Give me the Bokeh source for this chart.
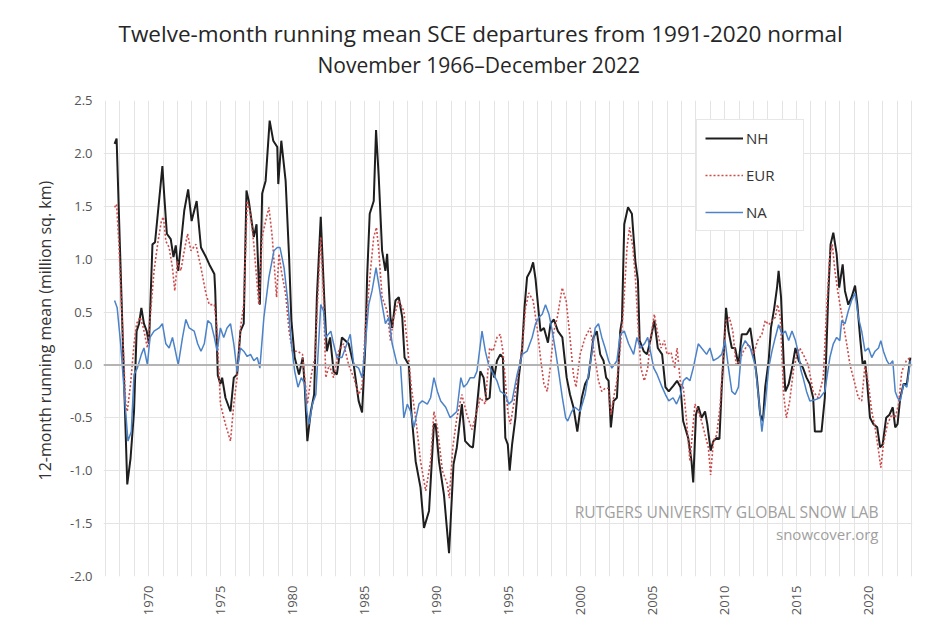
import math
from bokeh.plotting import figure
from bokeh.models import (FixedTicker, Range1d, Span, Label, Legend, LegendItem,
                          NumeralTickFormatter, Title)
from bokeh.embed import file_html
from bokeh.resources import INLINE

# ---------------- data ----------------
nh_t = [1967.63, 1967.77, 1968.51, 1968.74, 1968.98, 1969.16, 1969.33, 1969.49, 1969.67, 1969.86,
        1970.02, 1970.26, 1970.44, 1970.79, 1970.95, 1971.07, 1971.26, 1971.53, 1971.72, 1971.88,
        1972.05, 1972.47, 1972.74, 1972.98, 1973.33, 1973.63, 1973.98, 1974.21, 1974.56, 1974.62,
        1974.80, 1974.98, 1975.10, 1975.33, 1975.68, 1975.91, 1976.14, 1976.37, 1976.60, 1976.79,
        1976.95, 1977.30, 1977.49, 1977.65, 1977.72, 1977.88, 1978.12, 1978.40, 1978.65, 1978.93,
        1979.00, 1979.21, 1979.51, 1979.75, 1979.91, 1980.14, 1980.44, 1980.70, 1980.84, 1981.02,
        1981.26, 1981.49, 1981.68, 1981.95, 1982.19, 1982.37, 1982.60, 1982.84, 1983.07, 1983.42,
        1983.89, 1984.24, 1984.58, 1984.82, 1985.05, 1985.17, 1985.35, 1985.63, 1985.79, 1985.98,
        1986.21, 1986.44, 1986.56, 1986.79, 1986.91, 1987.14, 1987.37, 1987.61, 1987.77, 1988.07,
        1988.24, 1988.54, 1988.88, 1989.12, 1989.47, 1989.81, 1989.93, 1990.16, 1990.51, 1990.86,
        1991.17, 1991.40, 1991.75, 1991.98, 1992.33, 1992.52, 1992.68, 1993.03, 1993.26, 1993.45,
        1993.68, 1993.84, 1994.00, 1994.19, 1994.42, 1994.60, 1994.77, 1994.94, 1995.07, 1995.24,
        1995.47, 1995.70, 1995.94, 1996.10, 1996.28, 1996.52, 1996.70, 1996.87, 1997.21, 1997.45,
        1997.73, 1997.91, 1998.14, 1998.42, 1998.73, 1999.03, 1999.26, 1999.50, 1999.77, 2000.08,
        2000.31, 2000.54, 2000.89, 2001.12, 2001.36, 2001.59, 2001.77, 2001.94, 2002.10, 2002.29,
        2002.52, 2002.75, 2002.87, 2003.03, 2003.29, 2003.56, 2003.80, 2003.98, 2004.10, 2004.38,
        2004.61, 2004.84, 2005.12, 2005.36, 2005.66, 2005.89, 2006.12, 2006.42, 2006.70, 2006.94,
        2007.12, 2007.47, 2007.70, 2007.82, 2008.01, 2008.17, 2008.40, 2008.64, 2008.80, 2009.03,
        2009.22, 2009.45, 2009.64, 2009.80, 2009.96, 2010.10, 2010.27, 2010.50, 2010.73, 2010.96,
        2011.19, 2011.54, 2011.78, 2012.01, 2012.24, 2012.47, 2012.66, 2012.82, 2013.06, 2013.22,
        2013.45, 2013.64, 2013.75, 2013.92, 2014.10, 2014.22, 2014.45, 2014.68, 2014.92, 2015.15,
        2015.45, 2015.69, 2015.92, 2016.15, 2016.27, 2016.50, 2016.73, 2016.96, 2017.20, 2017.36,
        2017.55, 2017.78, 2017.96, 2018.20, 2018.36, 2018.59, 2018.82, 2019.06, 2019.22, 2019.41,
        2019.59, 2019.75, 2019.87, 2020.10, 2020.34, 2020.60, 2020.80, 2020.98, 2021.22, 2021.45,
        2021.68, 2021.85, 2022.01, 2022.20, 2022.43, 2022.66, 2022.90]
nh_v = [2.09, 2.14, -1.13, -0.88, -0.44, 0.32, 0.39, 0.54, 0.39, 0.32,
        0.20, 1.14, 1.16, 1.65, 1.88, 1.62, 1.24, 1.19, 1.02, 1.13,
        0.89, 1.46, 1.66, 1.36, 1.55, 1.11, 1.02, 0.95, 0.86, 0.70,
        -0.10, -0.18, -0.12, -0.31, -0.44, -0.12, -0.09, 0.32, 0.39, 1.65,
        1.55, 1.21, 1.33, 0.76, 0.57, 1.62, 1.74, 2.31, 2.12, 2.06,
        1.71, 2.12, 1.74, 1.02, 0.42, 0.07, -0.09, 0.07, -0.21, -0.72,
        -0.44, -0.28, 0.64, 1.40, 0.64, 0.13, 0.26, -0.06, -0.09, 0.26,
        0.20, 0.00, -0.34, -0.45, 0.20, 0.83, 1.43, 1.55, 2.22, 1.77,
        1.08, 0.89, 1.05, 0.45, 0.35, 0.61, 0.64, 0.45, 0.07, 0.00,
        -0.44, -0.91, -1.16, -1.54, -1.38, -0.56, -0.56, -0.91, -1.23, -1.78,
        -0.94, -0.78, -0.37, -0.72, -0.77, -0.78, -0.56, -0.06, -0.12, -0.33,
        -0.31, 0.00, -0.12, 0.04, 0.10, 0.07, -0.69, -0.75, -1.00, -0.75,
        -0.50, -0.12, 0.16, 0.54, 0.83, 0.89, 0.97, 0.81, 0.32, 0.35,
        0.21, 0.39, 0.43, 0.32, 0.26, -0.12, -0.28, -0.40, -0.63, -0.31,
        -0.18, -0.12, 0.26, 0.32, 0.10, 0.04, -0.12, -0.15, -0.59, -0.34,
        -0.31, 0.32, 0.42, 1.33, 1.49, 1.43, 0.98, 0.80, 0.23, 0.13,
        0.10, 0.23, 0.42, 0.16, 0.10, -0.21, -0.25, -0.20, -0.15, -0.21,
        -0.53, -0.69, -0.91, -1.11, -0.47, -0.39, -0.50, -0.44, -0.56, -0.81,
        -0.72, -0.69, -0.70, -0.21, 0.16, 0.54, 0.32, 0.16, 0.16, 0.00,
        0.29, 0.29, 0.35, 0.13, -0.12, -0.47, -0.53, -0.21, 0.04, 0.35,
        0.54, 0.73, 0.89, 0.64, 0.04, -0.25, -0.18, -0.03, 0.16, 0.04,
        -0.03, -0.12, -0.18, -0.31, -0.63, -0.63, -0.63, -0.31, 0.67, 1.14,
        1.25, 1.05, 0.73, 0.95, 0.70, 0.57, 0.64, 0.75, 0.57, 0.26,
        0.00, 0.04, -0.12, -0.50, -0.56, -0.59, -0.78, -0.75, -0.50, -0.47,
        -0.40, -0.59, -0.56, -0.31, -0.18, -0.18, 0.07]

eur_t = [1967.63, 1967.77, 1967.93, 1968.40, 1968.51, 1968.74, 1968.98, 1969.16, 1969.40, 1969.63,
         1969.91, 1970.14, 1970.37, 1970.65, 1970.88, 1971.02, 1971.19, 1971.42, 1971.65, 1971.81,
         1972.00, 1972.23, 1972.47, 1972.70, 1972.93, 1973.28, 1973.63, 1973.98, 1974.21, 1974.56,
         1974.74, 1974.98, 1975.33, 1975.68, 1975.91, 1976.14, 1976.37, 1976.60, 1976.84, 1977.07,
         1977.30, 1977.65, 1977.88, 1978.12, 1978.35, 1978.58, 1978.88, 1979.05, 1979.21, 1979.51,
         1979.75, 1979.98, 1980.33, 1980.68, 1980.84, 1981.02, 1981.30, 1981.54, 1981.72, 1981.95,
         1982.14, 1982.30, 1982.54, 1982.84, 1983.19, 1983.54, 1983.89, 1984.24, 1984.58, 1984.82,
         1985.05, 1985.40, 1985.63, 1985.82, 1985.98, 1986.21, 1986.56, 1986.79, 1987.02, 1987.37,
         1987.72, 1987.96, 1988.24, 1988.54, 1988.88, 1989.24, 1989.58, 1989.81, 1990.05, 1990.40,
         1990.75, 1990.88, 1991.12, 1991.40, 1991.75, 1992.10, 1992.45, 1992.68, 1993.03, 1993.38,
         1993.68, 1993.91, 1994.19, 1994.42, 1994.60, 1994.77, 1994.94, 1995.12, 1995.35, 1995.59,
         1995.94, 1996.17, 1996.40, 1996.70, 1996.98, 1997.21, 1997.45, 1997.68, 1997.91, 1998.14,
         1998.38, 1998.72, 1999.00, 1999.26, 1999.50, 1999.68, 1999.96, 2000.31, 2000.66, 2000.89,
         2001.24, 2001.47, 2001.70, 2001.94, 2002.10, 2002.29, 2002.52, 2002.75, 2002.98, 2003.22,
         2003.40, 2003.63, 2003.80, 2003.98, 2004.19, 2004.42, 2004.66, 2004.84, 2005.12, 2005.36,
         2005.59, 2005.82, 2006.00, 2006.28, 2006.52, 2006.70, 2006.94, 2007.13, 2007.36, 2007.59,
         2007.94, 2008.17, 2008.40, 2008.64, 2008.87, 2009.03, 2009.22, 2009.45, 2009.68, 2009.92,
         2010.10, 2010.33, 2010.57, 2010.80, 2011.03, 2011.31, 2011.66, 2012.01, 2012.29, 2012.59,
         2012.82, 2013.06, 2013.29, 2013.52, 2013.68, 2013.87, 2014.10, 2014.29, 2014.52, 2014.80,
         2015.03, 2015.22, 2015.57, 2015.80, 2016.15, 2016.50, 2016.85, 2017.08, 2017.31, 2017.48,
         2017.66, 2017.89, 2018.13, 2018.48, 2018.71, 2018.94, 2019.29, 2019.52, 2019.75, 2019.99,
         2020.22, 2020.45, 2020.69, 2020.85, 2021.03, 2021.31, 2021.61, 2021.85, 2022.08, 2022.31,
         2022.62, 2022.90]
eur_v = [1.49, 1.52, 1.14, -0.37, -0.44, -0.18, 0.20, 0.39, 0.45, 0.35,
         0.16, 0.51, 0.89, 1.17, 1.36, 1.40, 1.17, 1.11, 0.92, 0.70,
         0.98, 0.89, 1.08, 1.24, 1.08, 1.14, 0.92, 0.67, 0.57, 0.57,
         0.35, -0.37, -0.56, -0.72, -0.37, -0.12, 0.35, 0.57, 1.55, 1.43,
         1.14, 0.57, 1.21, 1.36, 1.49, 1.21, 0.64, 1.05, 0.89, 0.67,
         0.32, 0.13, 0.13, 0.10, -0.12, -0.37, -0.09, 0.07, 0.57, 1.21,
         0.64, -0.12, 0.00, -0.12, 0.13, 0.20, 0.00, -0.12, -0.28, -0.21,
         0.35, 0.89, 1.21, 1.30, 1.08, 0.64, 0.51, 0.23, 0.45, 0.61,
         0.51, 0.20, -0.21, -0.50, -0.91, -1.19, -0.91, -0.44, -0.59, -1.00,
         -1.13, -1.26, -0.78, -0.50, -0.28, -0.47, -0.61, -0.50, -0.31, -0.37,
         0.16, 0.13, 0.26, 0.29, 0.13, -0.15, -0.44, -0.56, -0.37, -0.15,
         0.16, 0.54, 0.68, 0.61, 0.35, 0.07, -0.18, -0.25, 0.00, 0.32,
         0.45, 0.73, 0.60, 0.26, -0.09, -0.21, 0.10, 0.26, 0.35, 0.16,
         -0.15, -0.25, -0.22, -0.22, -0.47, -0.31, -0.15, 0.16, 0.54, 1.11,
         1.30, 1.11, 0.83, 0.38, -0.03, -0.15, -0.03, 0.23, 0.48, 0.29,
         0.16, 0.23, 0.10, 0.12, -0.03, 0.16, -0.18, -0.21, -0.53, -0.91,
         -0.37, -0.44, -0.53, -0.66, -0.78, -1.04, -0.72, -0.66, -0.40, 0.10,
         0.42, 0.45, 0.32, 0.00, 0.04, 0.13, 0.20, 0.10, 0.23, 0.29,
         0.42, 0.38, 0.42, 0.45, 0.57, 0.45, -0.28, -0.50, -0.34, -0.03,
         0.10, 0.16, 0.07, 0.00, -0.25, -0.31, -0.12, 0.51, 1.05, 1.14,
         0.89, 0.67, 0.48, 0.20, 0.00, -0.12, -0.31, -0.34, 0.00, -0.18,
         -0.44, -0.59, -0.81, -0.97, -0.75, -0.56, -0.47, -0.50, -0.37, -0.06,
         0.04, 0.07]

na_t = [1967.63, 1967.81, 1968.05, 1968.40, 1968.56, 1968.79, 1968.98, 1969.21, 1969.49, 1969.67,
        1969.91, 1970.09, 1970.37, 1970.72, 1970.95, 1971.19, 1971.42, 1971.65, 1971.81, 1972.05,
        1972.35, 1972.58, 1972.81, 1973.16, 1973.40, 1973.63, 1973.86, 1974.10, 1974.33, 1974.56,
        1974.75, 1974.98, 1975.21, 1975.44, 1975.68, 1975.91, 1976.14, 1976.37, 1976.60, 1976.84,
        1977.07, 1977.30, 1977.54, 1977.72, 1978.00, 1978.35, 1978.70, 1978.93, 1979.12, 1979.40,
        1979.63, 1979.91, 1980.14, 1980.37, 1980.60, 1980.84, 1980.98, 1981.14, 1981.37, 1981.61,
        1981.72, 1981.95, 1982.14, 1982.30, 1982.65, 1982.84, 1983.07, 1983.42, 1983.77, 1984.00,
        1984.24, 1984.58, 1984.82, 1985.05, 1985.28, 1985.51, 1985.79, 1985.98, 1986.21, 1986.44,
        1986.68, 1986.91, 1987.26, 1987.49, 1987.72, 1987.96, 1988.19, 1988.42, 1988.77, 1989.00,
        1989.35, 1989.58, 1989.81, 1990.05, 1990.28, 1990.63, 1990.94, 1991.17, 1991.40, 1991.68,
        1991.87, 1992.10, 1992.33, 1992.61, 1992.80, 1993.15, 1993.38, 1993.61, 1993.84, 1994.19,
        1994.42, 1994.77, 1995.00, 1995.24, 1995.59, 1995.94, 1996.28, 1996.63, 1996.87, 1997.10,
        1997.33, 1997.56, 1997.80, 1998.03, 1998.26, 1998.50, 1998.73, 1998.96, 1999.10, 1999.38,
        1999.61, 1999.96, 2000.31, 2000.54, 2000.77, 2001.01, 2001.24, 2001.47, 2001.70, 2001.94,
        2002.17, 2002.52, 2002.75, 2003.03, 2003.33, 2003.68, 2003.91, 2004.15, 2004.43, 2004.66,
        2004.89, 2005.08, 2005.31, 2005.66, 2005.89, 2006.12, 2006.42, 2006.66, 2006.94, 2007.13,
        2007.36, 2007.59, 2007.82, 2008.17, 2008.40, 2008.75, 2008.98, 2009.22, 2009.57, 2009.80,
        2010.03, 2010.27, 2010.50, 2010.73, 2010.96, 2011.19, 2011.43, 2011.78, 2012.12, 2012.36,
        2012.59, 2012.82, 2013.06, 2013.29, 2013.52, 2013.75, 2013.99, 2014.22, 2014.45, 2014.68,
        2014.92, 2015.15, 2015.30, 2015.45, 2015.69, 2015.92, 2016.27, 2016.62, 2016.96, 2017.31,
        2017.55, 2017.78, 2018.00, 2018.13, 2018.36, 2018.59, 2018.82, 2019.06, 2019.29, 2019.52,
        2019.75, 2019.99, 2020.22, 2020.45, 2020.69, 2020.85, 2021.03, 2021.27, 2021.45, 2021.68,
        2021.85, 2022.01, 2022.20, 2022.43, 2022.66, 2022.90]
na_v = [0.61, 0.54, 0.20, -0.44, -0.72, -0.63, -0.09, -0.03, 0.10, 0.16,
        0.00, 0.26, 0.32, 0.35, 0.39, 0.20, 0.16, 0.26, 0.16, 0.00,
        0.26, 0.43, 0.35, 0.32, 0.20, 0.13, 0.20, 0.42, 0.39, 0.26,
        0.13, 0.35, 0.26, 0.35, 0.39, 0.20, -0.06, 0.16, 0.13, 0.08,
        0.10, 0.04, 0.07, -0.03, 0.45, 0.83, 1.08, 1.11, 1.11, 0.92,
        0.64, 0.20, -0.06, -0.21, -0.12, -0.18, -0.44, -0.56, -0.37, -0.28,
        0.00, 0.57, 0.51, 0.26, 0.32, 0.20, 0.07, 0.07, 0.20, 0.29,
        0.00, -0.03, -0.12, 0.20, 0.57, 0.70, 0.92, 0.76, 0.57, 0.39,
        0.45, 0.20, 0.00, 0.00, -0.50, -0.37, -0.44, -0.59, -0.37, -0.34,
        -0.37, -0.31, -0.12, -0.25, -0.34, -0.40, -0.50, -0.47, -0.44, -0.12,
        -0.21, -0.18, -0.12, -0.12, -0.06, 0.32, 0.13, 0.00, -0.06, -0.15,
        -0.25, -0.28, -0.37, -0.34, -0.09, 0.10, 0.13, 0.26, 0.39, 0.45,
        0.48, 0.57, 0.48, 0.32, 0.13, -0.09, -0.31, -0.50, -0.53, -0.44,
        -0.40, -0.44, -0.28, -0.09, 0.10, 0.35, 0.39, 0.26, 0.16, 0.04,
        -0.03, 0.04, 0.29, 0.32, 0.20, 0.10, 0.26, 0.16, 0.20, 0.26,
        0.10, -0.03, -0.09, -0.21, -0.28, -0.34, -0.31, -0.37, -0.28, -0.15,
        -0.12, -0.15, -0.03, 0.20, 0.16, 0.10, 0.16, 0.04, 0.07, 0.10,
        0.23, -0.03, -0.25, -0.28, -0.21, 0.16, 0.23, 0.16, 0.00, -0.31,
        -0.63, -0.37, -0.03, 0.13, 0.26, 0.38, 0.29, 0.32, 0.23, 0.32,
        0.23, 0.10, -0.05, -0.12, -0.25, -0.34, -0.33, -0.31, -0.25, 0.07,
        0.20, 0.26, 0.23, 0.42, 0.39, 0.51, 0.61, 0.68, 0.45, 0.32,
        0.13, 0.16, 0.07, 0.13, 0.16, 0.23, 0.13, 0.04, 0.00, 0.04,
        -0.25, -0.31, -0.34, -0.18, -0.21, 0.04]

x_ticks = [1970, 1975, 1980, 1985, 1990, 1995, 2000, 2005, 2010, 2015, 2020]
y_ticks = [-2.0, -1.5, -1.0, -0.5, 0.0, 0.5, 1.0, 1.5, 2.0, 2.5]
grid_years = list(range(1967, 2024))
series_names = ["NH", "EUR", "NA"]

title1 = "Twelve-month running mean SCE departures from 1991-2020 normal"
title2 = "November 1966\u2013December 2022"
ylab = "12-month running mean (million sq. km)"
mark1 = "RUTGERS UNIVERSITY GLOBAL SNOW LAB"
mark2 = "snowcover.org"

FONT = "Open Sans"
W, H = 928, 637
FL, FR, FT, FB = 103, 912, 100, 576   # frame edges in page pixels

# ---------------- figure ----------------
p = figure(width=W, height=H, output_backend="svg", toolbar_location=None,
           x_range=Range1d(1966.86, 2023.05), y_range=Range1d(-2.0, 2.5),
           min_border_left=FL, min_border_right=W - FR,
           min_border_top=FT, min_border_bottom=H - FB)
p.outline_line_color = None
p.background_fill_color = "white"
p.border_fill_color = "white"

# first title line (outermost)
p.title.text = title1
p.title.align = "left"
p.title.offset = 15
p.title.text_font = FONT
p.title.text_font_size = "22.5px"
p.title.text_font_style = "normal"
p.title.text_color = "#262626"
p.title.standoff = 0
# blank spacer between the frame and the second title line (innermost)
p.add_layout(Title(text=" ", text_font_size="1px", standoff=19), "above")
# second title line
p.add_layout(Title(text=title2, align="left", offset=214, text_font=FONT,
                   text_font_size="21px", text_font_style="normal",
                   text_color="#262626", standoff=0), "above")

# grids
p.xgrid.ticker = FixedTicker(ticks=grid_years)
p.xgrid.grid_line_color = "#e4e4e4"
p.xgrid.grid_line_width = 1
p.ygrid.ticker = FixedTicker(ticks=y_ticks)
p.ygrid.grid_line_color = "#e4e4e4"
p.ygrid.grid_line_width = 1

# axes
p.xaxis.ticker = FixedTicker(ticks=x_ticks)
p.yaxis.ticker = FixedTicker(ticks=y_ticks)
p.yaxis.formatter = NumeralTickFormatter(format="0.0")
for ax in (p.xaxis[0], p.yaxis[0]):
    ax.axis_line_color = None
    ax.major_tick_line_color = None
    ax.minor_tick_line_color = None
    ax.major_tick_out = 0
    ax.major_tick_in = 0
    ax.minor_tick_out = 0
    ax.major_label_text_font = FONT
    ax.major_label_text_color = "#555555"
    ax.major_label_text_font_size = "13px"
p.xaxis.major_label_orientation = math.pi / 2
p.xaxis.major_label_standoff = 9
p.yaxis.major_label_standoff = 11

# y-axis label as a left-side title so that its start can be placed
p.add_layout(Title(text=ylab, align="left", offset=FB - 480, text_font=FONT,
                   text_font_size="16px", text_font_style="normal",
                   text_color="#333333", standoff=24), "left")

zero = Span(location=0, dimension="width", line_color="#b4b4b4", line_width=2)
p.add_layout(zero)

r_nh = p.line(nh_t, nh_v, line_color="#1e1e1e", line_width=2)
r_eur = p.line(eur_t, eur_v, line_color="#cc4b4b", line_width=1.6, line_dash="2 2")
r_na = p.line(na_t, na_v, line_color="#4b82c8", line_width=1.5)

legend = Legend(items=[LegendItem(label=series_names[0], renderers=[r_nh]),
                       LegendItem(label=series_names[1], renderers=[r_eur]),
                       LegendItem(label=series_names[2], renderers=[r_na])],
                location=(696 - FL, FB - 231), margin=0, padding=8, spacing=17,
                glyph_width=38, glyph_height=20, label_height=20, label_width=49,
                label_standoff=3, label_text_font=FONT, label_text_font_size="15px",
                label_text_color="#333333", border_line_color="#d0d0d0",
                border_line_width=1, background_fill_color="white", background_fill_alpha=1)
p.add_layout(legend, "center")

# watermark (frame-relative screen units)
p.add_layout(Label(x=878 - FL, y=FB - 511, x_units="screen", y_units="screen", text=mark1,
                   text_align="right", text_baseline="middle", text_font=FONT,
                   text_font_size="15.6px", text_color="#a0a0a0"))
p.add_layout(Label(x=878 - FL, y=FB - 533, x_units="screen", y_units="screen", text=mark2,
                   text_align="right", text_baseline="middle", text_font=FONT,
                   text_font_size="15px", text_color="#a0a0a0"))

open("out.html", "w").write(file_html(p, INLINE))
